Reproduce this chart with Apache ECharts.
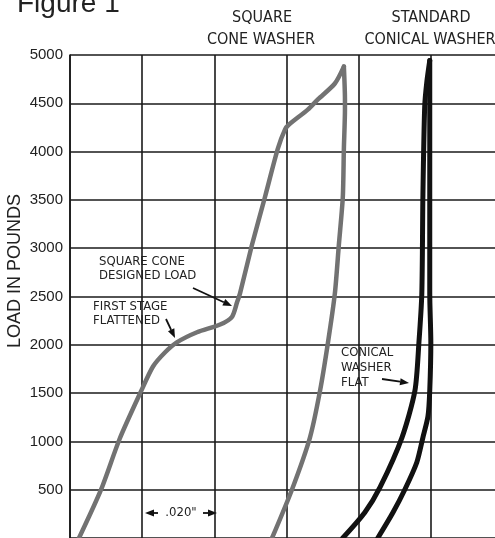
<!DOCTYPE html>
<html>
<head>
<meta charset="utf-8">
<title>Figure 1</title>
<script src="https://cdn.jsdelivr.net/npm/echarts@6/dist/echarts.min.js"></script>
<style>
html, body { margin: 0; padding: 0; background: #fff; overflow: hidden; }
#main { width: 503px; height: 538px; }
</style>
</head>
<body>
<div id="main"></div>
<script>
// deflection in inches, load in pounds
// square cone washer: loading up to the peak, then unloading back to zero
var squareLoadingDeflection = [0.0025, 0.0086, 0.0138, 0.0197, 0.0230, 0.0263, 0.0296, 0.0352, 0.0416,
                               0.0449, 0.0463, 0.0471, 0.0504, 0.0540, 0.0576, 0.0596, 0.0607, 0.0659, 0.0687,
                               0.0734, 0.0759];
var squareLoadingLoad = [0, 500, 1030, 1520, 1775, 1920, 2025, 2130, 2210,
                         2290, 2440, 2530, 3030, 3525, 4030, 4230, 4280, 4435, 4540,
                         4705, 4880];
var squareUnloadingDeflection = [0.0759, 0.0762, 0.0762, 0.0759, 0.0756, 0.0745, 0.0734, 0.0715, 0.0693,
                                 0.0665, 0.0615, 0.0560];
var squareUnloadingLoad = [4880, 4540, 4435, 4030, 3525, 3030, 2530, 2025, 1525,
                           1040, 500, 0];

// standard conical washer: outer and inner branches of the loop
var conicalOuterDeflection = [0.0853, 0.0895, 0.0928, 0.0961, 0.0978, 0.0992, 0.0997, 0.1000, 0.0997, 0.0997,
                              0.0997, 0.0997];
var conicalOuterLoad = [0, 264, 502, 782, 1040, 1258, 1527, 2024, 2531, 3535,
                        4467, 4943];
var conicalInnerDeflection = [0.0997, 0.0989, 0.0983, 0.0978, 0.0975, 0.0967, 0.0956, 0.0920, 0.0859,
                              0.0817, 0.0756];
var conicalInnerLoad = [4943, 4726, 4467, 3535, 2531, 2024, 1527, 1040, 523,
                        264, 0];

var narrow = '"Liberation Sans Narrow", "DejaVu Sans Condensed", sans-serif';
var regular = '"Liberation Sans", Arial, sans-serif';

function pairs(xs, ys) {
    var out = [];
    for (var i = 0; i < xs.length; i++) out.push([xs[i], ys[i]]);
    return out;
}

function txt(x, y, s, size, align, font) {
    return {
        type: 'text', x: x, y: y, silent: true,
        style: { text: s, fill: '#222', fontSize: size, fontFamily: font || narrow,
                 align: align || 'left', verticalAlign: 'middle' }
    };
}

// line with a filled head at (x2, y2)
function arrow(x1, y1, x2, y2) {
    var dx = x2 - x1, dy = y2 - y1;
    var len = Math.sqrt(dx * dx + dy * dy);
    var ux = dx / len, uy = dy / len;
    var hl = 9, hw = 3.5;
    var bx = x2 - ux * hl, by = y2 - uy * hl;
    return [
        { type: 'line', silent: true, shape: { x1: x1, y1: y1, x2: bx, y2: by },
          style: { stroke: '#111', lineWidth: 1.8 } },
        { type: 'polygon', silent: true,
          shape: { points: [[x2, y2], [bx - uy * hw, by + ux * hw], [bx + uy * hw, by - ux * hw]] },
          style: { fill: '#111' } }
    ];
}

function curve(name, xs, ys, color, width) {
    return {
        name: name,
        type: 'line',
        data: pairs(xs, ys),
        showSymbol: false,
        smooth: 0.25,
        lineStyle: { color: color, width: width, cap: 'round', join: 'round' }
    };
}

function buildChart() {
    var myChart = echarts.init(document.getElementById('main'));

    var graphics = [
        txt(17, 4, 'Figure 1', 28, 'left', regular),
        txt(262, 18, 'SQUARE', 16, 'center'),
        txt(261, 40, 'CONE WASHER', 16, 'center'),
        txt(431, 18, 'STANDARD', 16, 'center'),
        txt(430, 40, 'CONICAL WASHER', 16, 'center'),
        {
            type: 'text', x: 15, y: 271, rotation: Math.PI / 2, silent: true,
            style: { text: 'LOAD IN POUNDS', fill: '#222', fontSize: 18, fontFamily: regular,
                     align: 'center', verticalAlign: 'middle' }
        },
        txt(99, 262, 'SQUARE CONE', 13),
        txt(99, 276, 'DESIGNED LOAD', 13),
        txt(93, 307, 'FIRST STAGE', 13),
        txt(93, 321, 'FLATTENED', 13),
        txt(341, 353, 'CONICAL', 13),
        txt(341, 368, 'WASHER', 13),
        txt(341, 383, 'FLAT', 13),
        txt(181, 513, '.020"', 13, 'center')
    ];
    graphics = graphics
        .concat(arrow(193, 288, 232, 306))
        .concat(arrow(166, 319, 175, 338))
        .concat(arrow(382, 379, 409, 383))
        .concat(arrow(158, 513, 145, 513))
        .concat(arrow(203, 513, 217, 513));

    var option = {
        animation: false,
        backgroundColor: '#fff',
        grid: { left: 70, right: 0, top: 55, bottom: 0 },
        xAxis: {
            type: 'value', min: 0, max: 0.12, interval: 0.02,
            axisLine: { show: false },
            axisTick: { show: false },
            axisLabel: { show: false },
            splitLine: { show: true, lineStyle: { color: '#1a1a1a', width: 1.6 } }
        },
        yAxis: {
            type: 'value', min: 0, max: 5000, interval: 500,
            axisLine: { show: true, lineStyle: { color: '#1a1a1a', width: 1.6 } },
            axisTick: { show: false },
            axisLabel: {
                showMinLabel: false, margin: 7, color: '#222', fontSize: 15, fontFamily: regular,
                formatter: function (v) { return String(v); }
            },
            splitLine: { show: true, lineStyle: { color: '#1a1a1a', width: 1.6 } }
        },
        graphic: graphics,
        series: [
            curve('Square Cone Loading', squareLoadingDeflection, squareLoadingLoad, '#727272', 4.5),
            curve('Square Cone Unloading', squareUnloadingDeflection, squareUnloadingLoad, '#727272', 4.5),
            curve('Conical Outer', conicalOuterDeflection, conicalOuterLoad, '#111', 5),
            curve('Conical Inner', conicalInnerDeflection, conicalInnerLoad, '#111', 5)
        ]
    };

    myChart.setOption(option);
}

buildChart();
</script>
</body>
</html>
